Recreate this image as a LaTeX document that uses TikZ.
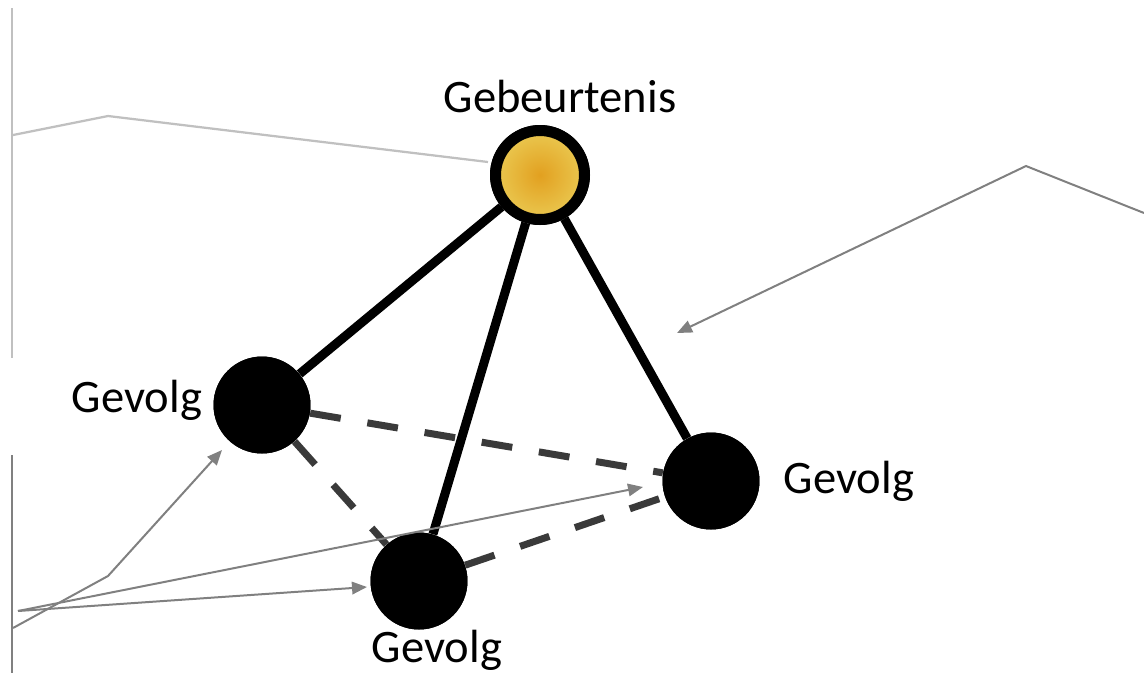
\documentclass[tikz,border=0pt]{standalone}
\usepackage{fontspec}
\setmainfont{Carlito}
\usetikzlibrary{arrows.meta}

\definecolor{goldcore}{HTML}{E2A020}
\definecolor{goldrim}{HTML}{EAC850}
\definecolor{dashgray}{HTML}{3A3A3A}
\definecolor{callout}{HTML}{808080}
\definecolor{lightcallout}{HTML}{C0C0C0}

\begin{document}
\begin{tikzpicture}[x=0.02cm, y=-0.02cm,
  event/.style={circle, inner sep=0pt, minimum size=1.78cm, draw=black,
    line width=0.22cm, inner color=goldcore, outer color=goldrim},
  result/.style={circle, inner sep=0pt, minimum size=1.94cm, fill=black},
  solidedge/.style={line width=0.18cm, black},
  hiddenedge/.style={line width=0.14cm, dashgray, dash pattern=on 0.62cm off 0.54cm},
  label/.style={font=\fontsize{26.5}{30}\selectfont, anchor=base, inner sep=0pt},
  pointer/.style={callout, line width=0.04cm, -{Triangle[length=0.3cm, width=0.25cm]}},
  plainline/.style={callout, line width=0.04cm},
  faintline/.style={lightcallout, line width=0.045cm},
]
\useasboundingbox (0,0) rectangle (1144,674);

% the event and its three consequences
\node[event]  (ev) at (540,175) {};
\node[result] (gl) at (262,405) {};
\node[result] (gr) at (711,481) {};
\node[result] (gb) at (419,581) {};

% dashed base of the tetrahedron
\draw[hiddenedge] (gl) -- (gr);
\draw[hiddenedge] (gl) -- (gb);
\draw[hiddenedge] (gb) -- (gr);

% solid edges from the event
\draw[solidedge] (ev) -- (gl);
\draw[solidedge] (ev) -- (gb);
\draw[solidedge] (ev) -- (gr);

% redraw the nodes on top of the edges
\node[event]  at (ev) {};
\node[result] at (gl) {};
\node[result] at (gr) {};
\node[result] at (gb) {};

% labels
\node[label] (tgeb) at (560,112) {Gebeurtenis};
\node[label] (tgl)  at (137,412) {Gevolg};
\node[label] (tgr)  at (849,493) {Gevolg};
\node[label] (tgb)  at (437,662) {Gevolg};

% upper left bracket with its line to the event
\coordinate (tlTop) at (12,8);
\coordinate (tlBot) at (12,358);
\coordinate (tlStart) at (13,135);
\coordinate (tlBend) at (108,116);
\coordinate (tlEnd) at (488,162);
\draw[faintline] (tlTop) -- (tlBot);
\draw[faintline] (tlStart) -- (tlBend) -- (tlEnd);

% lower left bracket with its pointers to the consequences
\coordinate (blTop) at (12,455);
\coordinate (blBot) at (12,673);
\coordinate (blStart) at (13,628);
\coordinate (blBend) at (108,576);
\coordinate (blFan) at (18,611);
\coordinate (tipL) at (222,450);
\coordinate (tipB) at (367,587);
\coordinate (tipR) at (643,487);
\draw[plainline] (blTop) -- (blBot);
\draw[pointer] (blStart) -- (blBend) -- (tipL);
\draw[pointer] (blFan) -- (tipB);
\draw[pointer] (blFan) -- (tipR);

% right hand pointer to the edge towards the right consequence
\coordinate (rStart) at (1144,213);
\coordinate (rBend) at (1026,166);
\coordinate (tipE) at (677,333);
\draw[pointer] (rStart) -- (rBend) -- (tipE);
\end{tikzpicture}
\end{document}
